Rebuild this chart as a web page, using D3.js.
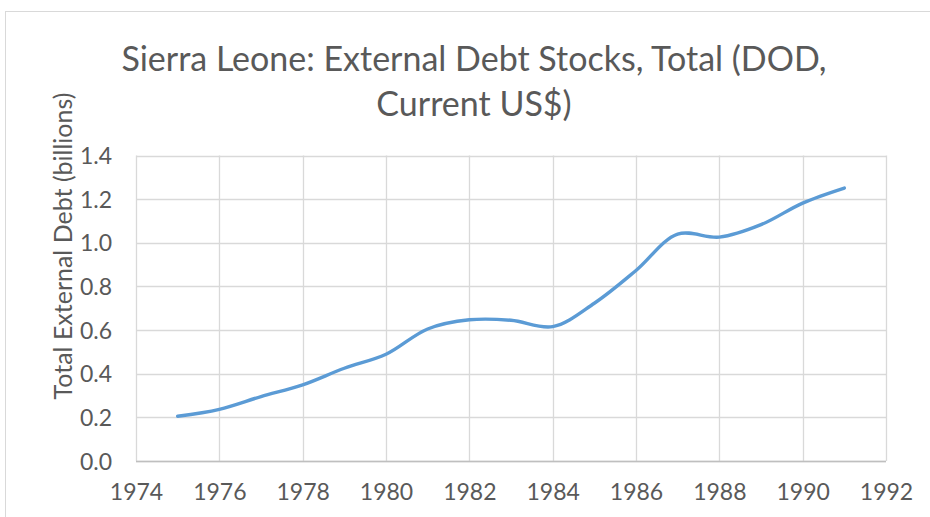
<!DOCTYPE html>
<html>
<head>
<meta charset="utf-8">
<script src="https://cdn.jsdelivr.net/npm/d3@7"></script>
<style>
  html, body { margin: 0; padding: 0; background: #fff; }
  svg { display: block; }
  text { font-family: Lato, "Open Sans", sans-serif; fill: #595959; }
</style>
</head>
<body>
<svg id="chart" width="930" height="517"></svg>
<script>
const years = [1975,1976,1977,1978,1979,1980,1981,1982,1983,1984,1985,1986,1987,1988,1989,1990,1991];
const debt  = [0.205,0.237,0.295,0.349,0.425,0.489,0.605,0.647,0.645,0.616,0.723,0.873,1.040,1.026,1.083,1.182,1.251];
const xTicks = [1974,1976,1978,1980,1982,1984,1986,1988,1990,1992];
const yTicks = [0,0.2,0.4,0.6,0.8,1.0,1.2,1.4];
const titleLines = ["Sierra Leone: External Debt Stocks, Total (DOD,", "Current US$)"];
const yTitle = "Total External Debt (billions)";

const svg = d3.select("#chart");
const W = 930, H = 517;
const m = {left: 136, right: 886, top: 155.5, bottom: 461};

// outer chart border
svg.append("rect")
  .attr("x", 5.5).attr("y", 11.5)
  .attr("width", W).attr("height", H)
  .attr("fill", "none").attr("stroke", "#D9D9D9").attr("stroke-width", 1);

const x = d3.scaleLinear().domain([1974, 1992]).range([m.left, m.right]);
const y = d3.scaleLinear().domain([0, 1.4]).range([m.bottom, m.top]);

// gridlines
const grid = svg.append("g");
grid.selectAll(".hg").data(yTicks).join("line")
  .attr("x1", m.left).attr("x2", m.right)
  .attr("y1", d => Math.round(y(d)) + 0.5).attr("y2", d => Math.round(y(d)) + 0.5)
  .attr("stroke", "#D9D9D9").attr("stroke-width", 1.3);
grid.selectAll(".vg").data(xTicks).join("line")
  .attr("y1", m.top).attr("y2", m.bottom)
  .attr("x1", d => Math.round(x(d)) + 0.5).attr("x2", d => Math.round(x(d)) + 0.5)
  .attr("stroke", "#D9D9D9").attr("stroke-width", 1.3);

// bottom axis line
svg.append("line")
  .attr("x1", m.left).attr("x2", m.right)
  .attr("y1", Math.round(y(0)) + 0.5).attr("y2", Math.round(y(0)) + 0.5)
  .attr("stroke", "#BFBFBF").attr("stroke-width", 1.3);

// x tick labels
const xAxis = d3.axisBottom(x).tickValues(xTicks).tickFormat(d3.format("d")).tickSize(0).tickPadding(0);
const gx = svg.append("g").attr("transform", `translate(0,${m.bottom})`).call(xAxis);
gx.select(".domain").remove();
gx.selectAll("text").attr("dy", null).attr("y", 39)
  .style("font-size", "23px").style("font-family", "Lato, sans-serif").attr("fill", "#595959");

// y tick labels
const yAxis = d3.axisLeft(y).tickValues(yTicks).tickFormat(d3.format(".1f")).tickSize(0).tickPadding(0);
const gy = svg.append("g").attr("transform", `translate(${m.left},0)`).call(yAxis);
gy.select(".domain").remove();
gy.selectAll("text").attr("x", -24).attr("dy", "0.35em")
  .style("font-size", "23px").style("font-family", "Lato, sans-serif").attr("fill", "#595959");

// line
const line = d3.line().x((d, i) => x(years[i])).y(d => y(d)).curve(d3.curveCatmullRom.alpha(0.5));
svg.append("path").datum(debt)
  .attr("d", line).attr("fill", "none")
  .attr("stroke", "#5B9BD5").attr("stroke-width", 3.4)
  .attr("stroke-linecap", "round").attr("stroke-linejoin", "round");

// title
const title = svg.append("text").attr("text-anchor", "middle").style("font-size", "34px");
title.append("tspan").attr("x", 474).attr("y", 71).text(titleLines[0]);
title.append("tspan").attr("x", 474).attr("y", 116).text(titleLines[1]);

// y axis title
svg.append("text")
  .attr("transform", "translate(72,246) rotate(-90)")
  .attr("text-anchor", "middle")
  .style("font-size", "25px")
  .text(yTitle);
</script>
</body>
</html>
